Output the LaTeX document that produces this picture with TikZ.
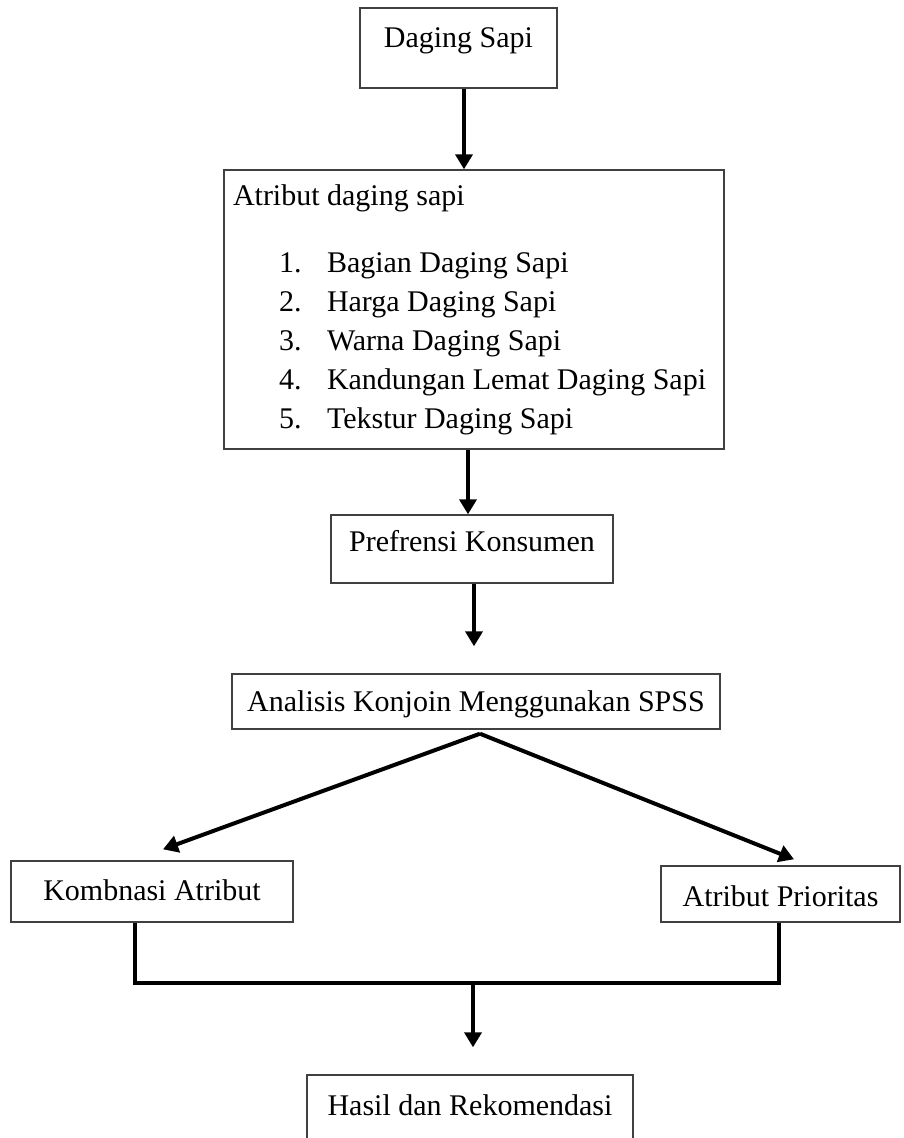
\documentclass[tikz,border=0pt]{standalone}
\usepackage{fontspec}
\setmainfont{Liberation Serif}
\usetikzlibrary{arrows.meta}
\begin{document}
\begin{tikzpicture}[x=1pt,y=-1pt,
  box/.style={draw=black!75,line width=1.4pt,inner sep=0pt,font=\fontsize{30}{39}\selectfont},
  arr/.style={line width=4pt,-{Triangle[length=15pt,width=17pt]}},
  bar/.style={line width=4pt}]
\clip (0,0) rectangle (904,1138);
\node[box,minimum width=197pt,minimum height=80pt,text height=21pt,text depth=23pt] (sapi) at (458.5,48) {Daging Sapi};
\node[box,minimum width=500pt,minimum height=279pt,align=flush left,text width=482pt] (atribut) at (474,309.5) {Atribut daging sapi\\[28pt]
\hspace*{46pt}\makebox[48pt][l]{1.}Bagian Daging Sapi\\
\hspace*{46pt}\makebox[48pt][l]{2.}Harga Daging Sapi\\
\hspace*{46pt}\makebox[48pt][l]{3.}Warna Daging Sapi\\
\hspace*{46pt}\makebox[48pt][l]{4.}Kandungan Lemat Daging Sapi\\
\hspace*{46pt}\makebox[48pt][l]{5.}Tekstur Daging Sapi};
\node[box,minimum width=282pt,minimum height=68pt,text height=21pt,text depth=17pt] (prefrensi) at (472,549) {Prefrensi Konsumen};
\node[box,minimum width=488pt,minimum height=55pt,text height=21pt,text depth=2pt] (analisis) at (476,701.5) {Analisis Konjoin Menggunakan SPSS};
\node[box,minimum width=282pt,minimum height=61pt,text height=21pt,text depth=4pt] (kombinasi) at (152,891.5) {Kombnasi Atribut};
\node[box,minimum width=239pt,minimum height=56pt,text height=24pt,text depth=0pt] (prioritas) at (780.5,894) {Atribut Prioritas};
\node[box,minimum width=326pt,minimum height=95pt,text height=21pt,text depth=36pt] (hasil) at (470,1122.5) {Hasil dan Rekomendasi};
\draw[arr] ([xshift=5.5pt]sapi.south) -- ([xshift=5.5pt]sapi.south |- atribut.north);
\draw[arr] ([xshift=-4pt]prefrensi.north |- atribut.south) -- ([xshift=-4pt]prefrensi.north);
\draw[arr,shorten >=27pt] ([xshift=2pt]prefrensi.south) -- ([xshift=2pt]prefrensi.south |- analisis.north);
\draw[arr] ([xshift=4pt,yshift=-4pt]analisis.south) -- ([xshift=11pt,yshift=11pt]kombinasi.north);
\draw[arr] ([xshift=4pt,yshift=-4pt]analisis.south) -- ([xshift=13.5pt,yshift=6pt]prioritas.north);
\coordinate (gabung) at ([yshift=-60pt]kombinasi.south);
\draw[bar] ([xshift=-17pt]kombinasi.south) -- ([xshift=-17pt]gabung) -| ([xshift=-1.5pt]prioritas.south);
\draw[arr,shorten >=27pt] ([xshift=3pt]hasil.north |- gabung) -- ([xshift=3pt]hasil.north);
\end{tikzpicture}
\end{document}
